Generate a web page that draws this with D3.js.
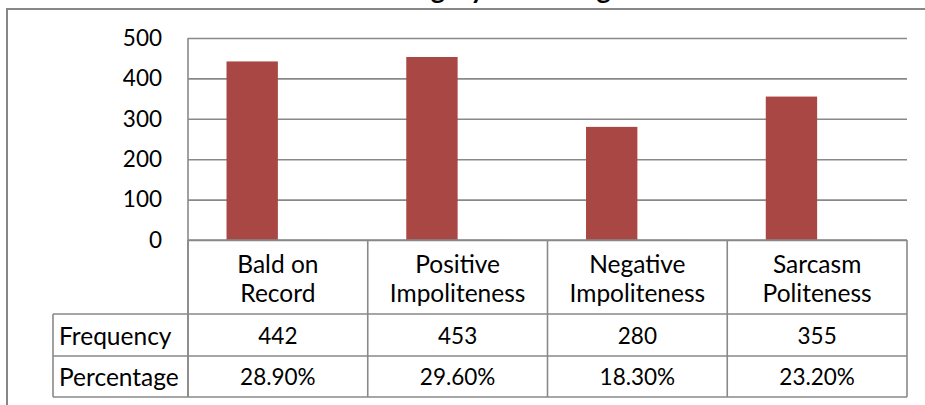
<!DOCTYPE html>
<html>
<head>
<meta charset="utf-8">
<script src="https://cdn.jsdelivr.net/npm/d3@7"></script>
<style>
  html, body { margin: 0; padding: 0; background: #fff; }
  svg { display: block; }
  text { font-family: Lato, "Open Sans", sans-serif; fill: #000; }
</style>
</head>
<body>
<svg id="chart" width="925" height="405"></svg>
<script>
// ---- data ----
const titleText = "Category Percentage";
const categories = [["Bald on", "Record"], ["Positive", "Impoliteness"], ["Negative", "Impoliteness"], ["Sarcasm", "Politeness"]];
const seriesNames = ["Frequency", "Percentage"];
const frequency = [442, 453, 280, 355];
const percentage = [0.289, 0.296, 0.183, 0.232];
const frequencyLabels = ["442", "453", "280", "355"];
const percentageLabels = ["28.90%", "29.60%", "18.30%", "23.20%"];
const yTicks = [0, 100, 200, 300, 400, 500];

// ---- layout ----
const W = 925, H = 405;
const plot = { left: 188, right: 907, top: 38, bottom: 240 };
const headerLeft = 53;
const rowBottoms = [314, 356, 397];
const gridColor = "#898989";
const barColors = ["#A94744", "#9BBB59"];
const wordSize = 24.5;
const numSize = 22.5;

const svg = d3.select("#chart");

// outer chart area border (only left/top visible)
svg.append("path")
  .attr("d", `M7,${H + 5}V9H${W + 5}`)
  .attr("fill", "none").attr("stroke", "#878787").attr("stroke-width", 2);

// title (mostly clipped above the frame, as in the reference)
svg.append("text")
  .attr("x", 500).attr("y", -1)
  .attr("text-anchor", "middle")
  .style("font-weight", "bold").style("font-size", "27px")
  .text(titleText);

const x = d3.scaleBand().domain(d3.range(categories.length)).range([plot.left, plot.right]).paddingInner(0).paddingOuter(0);
const gapRatio = 1.5; // Excel gap width 150%
const inner = d3.scaleBand().domain(seriesNames)
  .range([0, x.bandwidth()])
  .paddingInner(0)
  .paddingOuter(gapRatio / 2);
const y = d3.scaleLinear().domain([0, 500]).range([plot.bottom, plot.top]);

// gridlines
svg.append("g")
  .attr("transform", `translate(${plot.left},0)`)
  .call(d3.axisLeft(y).tickValues(yTicks).tickSize(-(plot.right - plot.left)).tickFormat(""))
  .call(g => g.select(".domain").remove())
  .call(g => g.selectAll(".tick line").attr("stroke", gridColor).attr("stroke-width", 1.6));

// y tick labels
svg.append("g")
  .attr("transform", `translate(162,0)`)
  .call(d3.axisLeft(y).tickValues(yTicks).tickSize(0).tickPadding(0))
  .call(g => g.select(".domain").remove())
  .call(g => g.selectAll(".tick text").style("font-size", numSize + "px").attr("font-family", null).attr("fill", "#000"));

// bars
const seriesData = [frequency, percentage];
seriesNames.forEach((name, si) => {
  svg.append("g").selectAll("rect")
    .data(seriesData[si])
    .join("rect")
    .attr("x", (d, i) => x(i) + inner(name))
    .attr("width", inner.bandwidth())
    .attr("y", d => y(d))
    .attr("height", d => y(0) - y(d))
    .attr("fill", barColors[si]);
});

// y axis line
svg.append("line")
  .attr("x1", plot.left).attr("x2", plot.left)
  .attr("y1", plot.top).attr("y2", rowBottoms[2])
  .attr("stroke", gridColor).attr("stroke-width", 1.6);

// data table grid
const tg = svg.append("g").attr("stroke", gridColor).attr("stroke-width", 1.6);
tg.append("line").attr("x1", plot.left).attr("x2", plot.right).attr("y1", y(0)).attr("y2", y(0));
rowBottoms.forEach(yy => {
  tg.append("line").attr("x1", headerLeft).attr("x2", plot.right).attr("y1", yy).attr("y2", yy);
});
d3.range(categories.length + 1).forEach(i => {
  const xx = i < categories.length ? x(i) : plot.right;
  tg.append("line").attr("x1", xx).attr("x2", xx).attr("y1", y(0)).attr("y2", rowBottoms[2]);
});
tg.append("line").attr("x1", headerLeft).attr("x2", headerLeft).attr("y1", rowBottoms[0]).attr("y2", rowBottoms[2]);

// category labels
categories.forEach((lines, i) => {
  const cx = x(i) + x.bandwidth() / 2;
  lines.forEach((ln, li) => {
    svg.append("text")
      .attr("x", cx).attr("y", 263 + li * 29)
      .attr("text-anchor", "middle").attr("dominant-baseline", "central")
      .style("font-size", wordSize + "px")
      .text(ln);
  });
});

// row headers and values
const rows = [frequencyLabels, percentageLabels];
rows.forEach((vals, ri) => {
  const top = rowBottoms[ri];
  const bot = rowBottoms[ri + 1];
  const cy = (top + bot) / 2;
  svg.append("text")
    .attr("x", headerLeft + 6).attr("y", cy)
    .attr("dominant-baseline", "central")
    .style("font-size", wordSize + "px")
    .text(seriesNames[ri]);
  vals.forEach((v, i) => {
    svg.append("text")
      .attr("x", x(i) + x.bandwidth() / 2).attr("y", cy)
      .attr("text-anchor", "middle").attr("dominant-baseline", "central")
      .style("font-size", numSize + "px")
      .text(v);
  });
});
</script>
</body>
</html>
